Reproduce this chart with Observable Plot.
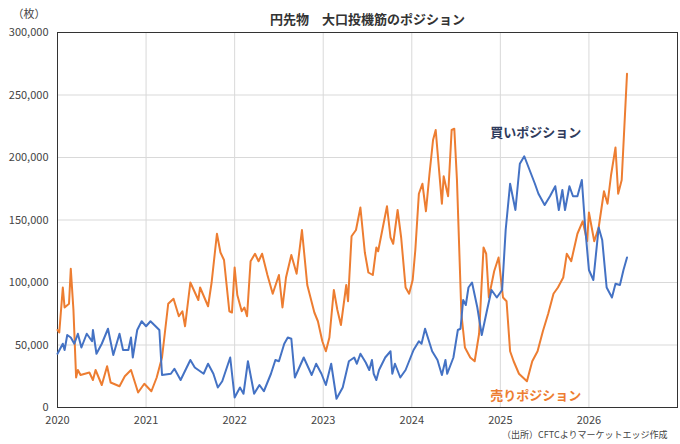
<!DOCTYPE html>
<html><head><meta charset="utf-8">
<script src="https://cdn.jsdelivr.net/npm/d3@7"></script>
<script src="https://cdn.jsdelivr.net/npm/@observablehq/plot@0.6"></script>
<style>body{margin:0;background:#fff;font-family:"Noto Sans CJK JP","Noto Sans",sans-serif}</style>
</head><body><div id="c"></div>
<script>
const sellT=[2020.0,2020.02,2020.06,2020.08,2020.13,2020.15,2020.18,2020.21,2020.23,2020.26,2020.36,2020.4,2020.43,2020.5,2020.56,2020.6,2020.7,2020.76,2020.83,2020.91,2020.98,2021.06,2021.12,2021.18,2021.25,2021.31,2021.37,2021.41,2021.44,2021.5,2021.59,2021.61,2021.7,2021.74,2021.8,2021.84,2021.88,2021.94,2021.97,2022.0,2022.03,2022.08,2022.11,2022.14,2022.18,2022.23,2022.27,2022.31,2022.37,2022.43,2022.5,2022.54,2022.58,2022.64,2022.7,2022.76,2022.82,2022.9,2022.94,2022.99,2023.03,2023.07,2023.12,2023.16,2023.2,2023.26,2023.28,2023.32,2023.37,2023.42,2023.47,2023.51,2023.56,2023.6,2023.62,2023.72,2023.76,2023.79,2023.84,2023.88,2023.93,2023.97,2024.01,2024.04,2024.08,2024.12,2024.16,2024.2,2024.24,2024.27,2024.34,2024.36,2024.41,2024.45,2024.48,2024.51,2024.56,2024.6,2024.66,2024.71,2024.76,2024.81,2024.84,2024.87,2024.93,2024.98,2025.03,2025.07,2025.11,2025.15,2025.21,2025.27,2025.3,2025.36,2025.42,2025.48,2025.54,2025.6,2025.65,2025.71,2025.75,2025.8,2025.87,2025.93,2025.98,2026.0,2026.06,2026.11,2026.17,2026.21,2026.25,2026.3,2026.33,2026.37,2026.43];
const sellV=[62,60,96,80,83,111,78,24,30,26,28,22,30,18,33,20,17,25,30,12,19,13,24,40,83,87,73,77,65,100,86,96,81,100,139,124,118,77,76,112,90,77,80,73,117,123,117,123,106,91,106,80,104,122,107,142,98,76,69,53,45,56,94,78,66,98,85,137,142,160,124,108,106,128,125,161,136,131,158,136,96,91,102,126,171,179,157,187,214,222,163,185,169,222,223,182,75,48,40,37,59,128,123,88,109,120,88,85,45,37,27,23,21,37,45,61,75,91,96,104,123,117,139,149,133,156,133,144,173,163,186,208,171,182,267];
const buyT=[2020.0,2020.06,2020.08,2020.11,2020.15,2020.19,2020.23,2020.27,2020.33,2020.39,2020.4,2020.44,2020.5,2020.57,2020.63,2020.7,2020.74,2020.8,2020.83,2020.85,2020.9,2020.95,2021.0,2021.05,2021.15,2021.18,2021.28,2021.32,2021.39,2021.5,2021.55,2021.65,2021.7,2021.76,2021.81,2021.86,2021.95,2022.0,2022.06,2022.1,2022.15,2022.22,2022.28,2022.33,2022.41,2022.46,2022.5,2022.56,2022.6,2022.64,2022.68,2022.73,2022.78,2022.87,2022.92,2022.98,2023.03,2023.09,2023.15,2023.22,2023.29,2023.35,2023.38,2023.42,2023.48,2023.52,2023.55,2023.57,2023.6,2023.63,2023.7,2023.76,2023.78,2023.81,2023.87,2023.93,2024.02,2024.08,2024.11,2024.15,2024.23,2024.29,2024.34,2024.38,2024.4,2024.47,2024.52,2024.55,2024.58,2024.61,2024.64,2024.68,2024.74,2024.79,2024.85,2024.9,2024.96,2025.02,2025.06,2025.11,2025.17,2025.22,2025.27,2025.33,2025.39,2025.43,2025.5,2025.56,2025.62,2025.66,2025.7,2025.73,2025.78,2025.82,2025.87,2025.92,2025.96,2026.0,2026.05,2026.11,2026.15,2026.2,2026.26,2026.3,2026.35,2026.39,2026.43];
const buyV=[43,51,46,58,56,51,59,48,59,53,62,43,51,63,42,59,46,46,56,40,62,69,65,69,62,26,27,31,22,38,32,27,35,27,16,21,40,8,16,11,37,11,18,13,27,38,37,51,56,55,24,32,40,26,35,27,18,35,7,16,37,40,35,43,36,30,38,27,22,30,40,45,27,35,24,30,46,53,51,63,45,38,26,38,27,40,62,63,86,82,96,100,80,58,78,94,88,94,142,179,158,195,201,190,179,171,162,169,177,158,174,158,177,169,169,182,142,110,102,144,134,96,88,99,98,110,120];
const yTicks=[0,50000,100000,150000,200000,250000,300000];
const xTicks=[2020,2021,2022,2023,2024,2025,2026];
const rows=[];
sellT.forEach((t,i)=>rows.push({t,v:sellV[i]*1000,s:"売りポジション"}));
buyT.forEach((t,i)=>rows.push({t,v:buyV[i]*1000,s:"買いポジション"}));
const fmt=d3.format(",");
const chart=Plot.plot({
  width:680,height:444,marginTop:32,marginLeft:57,marginRight:3,marginBottom:37,
  style:{fontFamily:'"Noto Sans CJK JP","Noto Sans",sans-serif',fontSize:"11px",color:"#444"},
  x:{domain:[2020,2027],ticks:xTicks,tickFormat:d=>String(d),label:null,tickSize:0},
  y:{domain:[0,300000],ticks:yTicks,tickFormat:fmt,label:null,tickSize:0},
  color:{domain:["買いポジション","売りポジション"],range:["#4472C4","#ED7D31"]},
  marks:[
    Plot.gridX(xTicks,{stroke:"#d9d9d9",strokeOpacity:1}),
    Plot.gridY(yTicks,{stroke:"#d9d9d9",strokeOpacity:1}),
    Plot.frame({stroke:"#333",strokeWidth:1}),
    Plot.line(rows,{x:"t",y:"v",z:"s",stroke:"s",strokeWidth:2}),
    Plot.text(["買いポジション"],{x:2025.4,y:220000,text:d=>d,fill:"#2F3B5C",fontWeight:"bold",fontSize:13}),
    Plot.text(["売りポジション"],{x:2025.4,y:9000,text:d=>d,fill:"#ED7D31",fontWeight:"bold",fontSize:13}),
    Plot.text(["円先物　大口投機筋のポジション"],{frameAnchor:"top",dy:-18,text:d=>d,fontWeight:"bold",fontSize:13,fill:"#333"}),
    Plot.text(["（枚）"],{frameAnchor:"top-left",dx:-45,dy:-22,text:d=>d,fontSize:11,fill:"#444"}),
    Plot.text(["（出所）CFTCよりマーケットエッジ作成"],{frameAnchor:"bottom-right",dx:-10,dy:30,text:d=>d,fontSize:9,fill:"#444"})
  ]
});
document.getElementById("c").append(chart);
</script></body></html>
